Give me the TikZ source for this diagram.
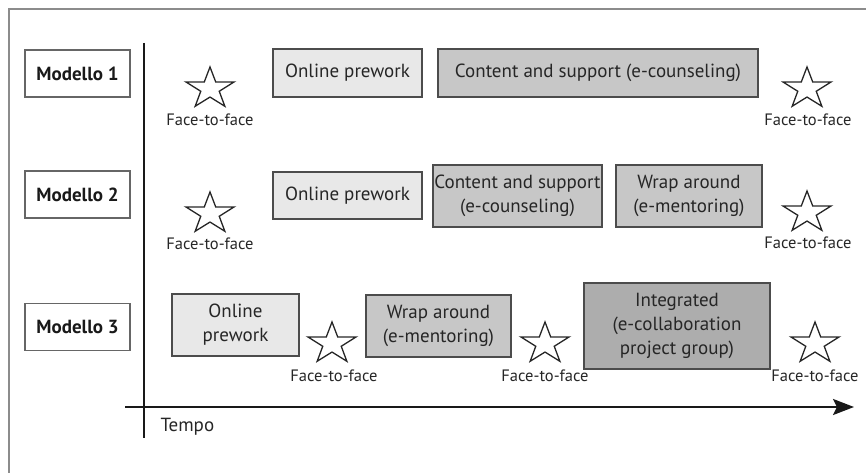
\documentclass[tikz,border=0pt]{standalone}
\usepackage{fontspec}
\setmainfont{PT Sans}
\usetikzlibrary{shapes.geometric,arrows.meta}

\begin{document}
\begin{tikzpicture}[x=1pt,y=-1pt,
  model/.style={draw=black!60,line width=1.3pt,fill=white,text=black!90,minimum width=105pt,minimum height=47pt,font=\fontsize{19}{22}\selectfont\bfseries},
  phase/.style={draw=black!70,line width=1.3pt,text=black!85,align=center,inner sep=0pt,font=\fontsize{19}{24}\selectfont},
  pre/.style={phase,fill=black!9},
  mid/.style={phase,fill=black!22},
  integ/.style={phase,fill=black!32},
  ftf/.style={star,star points=5,star point ratio=2.6,draw=black!85,line width=1.3pt,minimum size=50.5pt,inner sep=0pt,yscale=0.86,transform shape},
  ftf label/.style={text=black!85,inner sep=0pt,font=\fontsize{16.5}{19}\selectfont}]
  \useasboundingbox (0,0) rectangle (866,473);
  \draw[black!45,line width=1.2pt] (9,473) -- (9,9) -- (866,9);

  \coordinate (time top) at (144,43);
  \coordinate (time bottom) at (144,438);
  \coordinate (time start) at (125,407);
  \coordinate (time end) at (854,407);
  \draw[line width=2.5pt,black!90] (time top) -- (time bottom);
  \draw[line width=2.5pt,black!90,-{Stealth[length=21pt,width=16pt,inset=4pt]}] (time start) -- (time end);
  \node[anchor=west,text=black!85,font=\fontsize{19}{22}\selectfont] (tempo) at (157,427) {Tempo};

  \node[model] (m1) at (77.5,73.5) {Modello 1};
  \node[model] (m2) at (77.5,194.5) {Modello 2};
  \node[model] (m3) at (77.5,327) {Modello 3};

  % modello 1
  \node[ftf] (s11) at (210,88.7) {};
  \node[ftf label] (f11) at (210,120) {Face-to-face};
  \node[pre,minimum width=149pt,minimum height=48pt] (pre1) at (347.5,73) {Online prework};
  \node[mid,minimum width=320pt,minimum height=48pt] (cs1) at (598,73) {Content and support (e-counseling)};
  \node[ftf] (s12) at (807,88.7) {};
  \node[ftf label] (f12) at (808,120) {Face-to-face};

  % modello 2
  \node[ftf] (s21) at (210,213.7) {};
  \node[ftf label] (f21) at (210,244) {Face-to-face};
  \node[pre,minimum width=149pt,minimum height=47pt] (pre2) at (347.5,195.5) {Online prework};
  \node[mid,minimum width=169pt,minimum height=62pt] (cs2) at (517.5,196) {Content and support\\(e-counseling)};
  \node[mid,minimum width=146pt,minimum height=62pt] (wa2) at (689,196) {Wrap around\\(e-mentoring)};
  \node[ftf] (s22) at (807,212.7) {};
  \node[ftf label] (f22) at (808,243) {Face-to-face};

  % modello 3
  \node[pre,minimum width=127pt,minimum height=62pt] (pre3) at (235.5,325) {Online\\prework};
  \node[ftf] (s31) at (332,343.7) {};
  \node[ftf label] (f31) at (334,376) {Face-to-face};
  \node[mid,minimum width=145pt,minimum height=62pt] (wa3) at (438.5,326) {Wrap around\\(e-mentoring)};
  \node[ftf] (s32) at (545,343.7) {};
  \node[ftf label] (f32) at (545,376) {Face-to-face};
  \node[integ,minimum width=186pt,minimum height=86pt] (int3) at (677,326) {Integrated\\(e-collaboration\\project group)};
  \node[ftf] (s33) at (815,343.7) {};
  \node[ftf label] (f33) at (815,376) {Face-to-face};
\end{tikzpicture}
\end{document}
